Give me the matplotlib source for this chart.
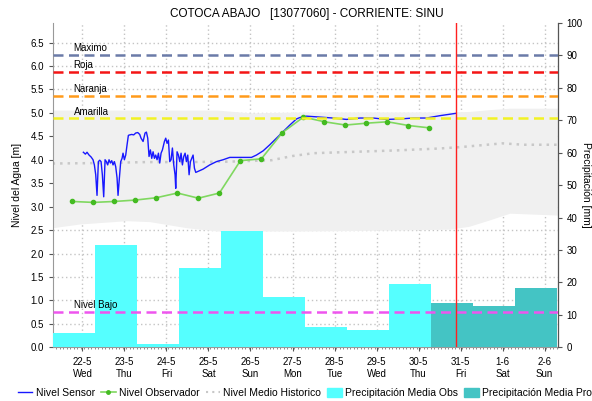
import numpy as np
import matplotlib.pyplot as plt
from matplotlib.lines import Line2D
from matplotlib.patches import Patch

plt.rcParams['font.family'] = ['Liberation Sans', 'DejaVu Sans']

# days: 0 = 22-5 at noon, axis runs 21-5 19:00 .. 2-6 19:00
day_labels = ['22-5', '23-5', '24-5', '25-5', '26-5', '27-5', '28-5', '29-5', '30-5', '31-5', '1-6', '2-6']
weekdays = ['Wed', 'Thu', 'Fri', 'Sat', 'Sun', 'Mon', 'Tue', 'Wed', 'Thu', 'Fri', 'Sat', 'Sun']

# precipitation (mm), daily bars 19:00-19:00
precip_obs = [4.4, 31.4, 1.0, 24.3, 35.8, 15.5, 6.2, 5.2, 19.5]
precip_pro = [13.5, 12.6, 18.2]

# thresholds (m)
thresholds = [('Maximo', 6.24, '#6b7ba8'), ('Roja', 5.88, '#f41515'),
              ('Naranja', 5.36, '#ff9a1a'), ('Amarilla', 4.88, '#f2f224'),
              ('Nivel Bajo', 0.76, '#ee55ee')]

sensor_t = [0.023, 0.071, 0.110, 0.158, 0.206, 0.253, 0.285, 0.317, 0.348, 0.380,
            0.412, 0.444, 0.475, 0.507, 0.539, 0.571, 0.602, 0.634, 0.666, 0.698,
            0.729, 0.761, 0.793, 0.825, 0.848, 0.880, 0.912, 0.944, 0.967, 0.999,
            1.031, 1.063, 1.094, 1.126, 1.174, 1.221, 1.269, 1.317, 1.364, 1.396,
            1.444, 1.491, 1.523, 1.555, 1.586, 1.618, 1.650, 1.682, 1.714, 1.745,
            1.777, 1.809, 1.840, 1.872, 1.904, 1.952, 1.983, 2.015, 2.047, 2.079,
            2.110, 2.142, 2.174, 2.205, 2.221, 2.253, 2.285, 2.317, 2.348, 2.380,
            2.412, 2.444, 2.475, 2.507, 2.539, 2.571, 2.602, 2.634, 2.666, 2.698,
            2.872, 3.031, 3.190, 3.348, 3.507, 3.666, 3.825, 4.023, 4.142, 4.301,
            4.460, 4.618, 4.777, 4.936, 5.094, 5.174, 5.333, 5.650, 5.967, 6.285,
            6.602, 6.920, 7.237, 7.555, 7.872, 8.190, 8.507, 8.890]
sensor_lvl = [4.16, 4.12, 4.16, 4.10, 4.06, 4.00, 3.89, 3.68, 3.24, 3.96,
              3.99, 3.96, 3.68, 3.21, 4.00, 3.96, 3.89, 4.00, 3.93, 3.98,
              3.89, 3.96, 3.85, 3.61, 3.24, 3.61, 3.96, 4.03, 4.14, 4.00,
              4.10, 4.32, 4.52, 4.53, 4.54, 4.53, 4.57, 4.58, 4.54, 4.46,
              4.39, 4.57, 4.59, 4.46, 4.07, 4.21, 4.03, 4.17, 4.03, 4.10,
              4.00, 4.14, 3.93, 4.14, 4.21, 4.39, 4.46, 4.35, 4.42, 3.96,
              4.00, 4.25, 3.89, 3.68, 3.39, 4.17, 4.10, 3.96, 4.14, 3.89,
              4.07, 4.14, 3.96, 4.10, 3.68, 3.96, 4.03, 4.10, 3.82, 3.73,
              3.80, 3.89, 3.96, 4.00, 4.05, 4.05, 4.05, 4.05, 4.10, 4.19,
              4.32, 4.46, 4.60, 4.74, 4.87, 4.90, 4.93, 4.91, 4.89, 4.86,
              4.89, 4.89, 4.86, 4.87, 4.89, 4.89, 4.94, 4.99]

obs_t = [-0.24, 0.26, 0.76, 1.26, 1.76, 2.26, 2.76, 3.26, 3.76, 4.26,
         4.76, 5.26, 5.76, 6.26, 6.76, 7.26, 7.76, 8.26]
obs_lvl = [3.11, 3.09, 3.11, 3.14, 3.19, 3.29, 3.18, 3.29, 3.98, 4.02,
           4.58, 4.91, 4.81, 4.74, 4.78, 4.81, 4.73, 4.68]

mean_t = [-0.71, 0.5, 1.5, 2.5, 3.5, 4.5, 5.0, 5.5, 6.5, 7.5, 8.5, 9.0, 9.5, 10.0, 10.5, 11.3]
mean_lvl = [3.92, 3.93, 3.95, 3.95, 3.96, 3.99, 4.08, 4.14, 4.17, 4.20, 4.24, 4.27, 4.31, 4.35, 4.32, 4.32]

band_t = [-0.71, -0.06, 1.05, 1.6, 2.48, 3.2, 4.0, 5.2, 7.56, 8.75, 9.2, 9.7, 10.17, 11.3]
band_lo = [2.55, 2.63, 2.70, 2.68, 2.55, 2.48, 2.48, 2.48, 2.50, 2.52, 2.58, 2.72, 2.86, 2.82]
band_hi = [5.06, 5.06, 5.06, 5.06, 5.06, 5.06, 5.00, 5.02, 5.02, 5.02, 5.03, 5.07, 5.10, 5.10]

now_t = 8.895
XMIN, XMAX = -0.70, 11.31
YMAX_M, YMAX_MM = 6.92, 100

fig = plt.figure(figsize=(5.92, 4.01), dpi=100)
ax = fig.add_axes([0.0895, 0.134, 0.8525, 0.809])
ax2 = ax.twinx()

ax.fill_between(band_t, band_lo, band_hi, color='#f0f0f0', lw=0, zorder=1)
ax.plot(mean_t, mean_lvl, color='#c8c8c8', lw=1.8, ls=(0, (1, 2)), zorder=2)
ax.plot(sensor_t, sensor_lvl, color='#1818ff', lw=1.0, zorder=3)
ax.plot(obs_t, obs_lvl, color='#80d860', lw=1.2, marker='o', ms=3,
        mfc='#44bb22', mec='#44bb22', zorder=4)

ax.set_xlim(XMIN, XMAX)
ax.set_ylim(0, YMAX_M)
ax.set_yticks(np.arange(0, 7.0, 0.5))
ax.set_yticklabels([f'{v:.1f}' for v in np.arange(0, 7.0, 0.5)])
ax.set_xticks(range(len(day_labels)))
ax.set_xticklabels([f'{d}\n{w}' for d, w in zip(day_labels, weekdays)])
ax.set_xticks(np.arange(-0.625, 11.3, 1 / 12), minor=True)
ax.grid(True, color='#c4c4c4', ls=(0, (1, 2)), lw=1.0)
ax.set_axisbelow(True)
ax.set_ylabel('Nivel del Agua [m]', fontsize=7.5)
ax.yaxis.set_label_coords(-0.062, 0.5)

# precipitation bars on the right axis
n_obs = len(precip_obs)
ax2.bar([i - 0.71 for i in range(n_obs)], precip_obs, width=1.0, align='edge',
        color='#55ffff', lw=0, zorder=1)
ax2.bar([n_obs + i - 0.71 for i in range(len(precip_pro))], precip_pro, width=1.0,
        align='edge', color='#44c4c4', lw=0, zorder=1)
ax2.set_ylim(0, YMAX_MM)
ax2.set_yticks(range(0, 101, 10))
ax2.set_ylabel('Precipitación [mm]', fontsize=7.5, rotation=270, va='center')
ax2.yaxis.set_label_coords(1.057, 0.5)

# threshold lines drawn above everything, in metres
for name, lvl, col in thresholds:
    ax2.plot([XMIN, XMAX], [lvl, lvl], transform=ax.transData, color=col,
             lw=1.8, ls=(0, (4, 2.2)), zorder=5)
    ax2.text(-0.21, lvl + 0.04, name, transform=ax.transData, fontsize=7,
             ha='left', va='bottom', zorder=6)
ax2.axvline(now_t, color='#ff2020', lw=1.0, zorder=6)
ax2.set_xlim(XMIN, XMAX)

for a in (ax, ax2):
    a.tick_params(labelsize=7, length=3, width=0.8, color='#555555')
    a.spines['top'].set_visible(False)
ax.tick_params(axis='x', which='minor', length=1.5, color='#777777')
ax.tick_params(axis='x', which='major', pad=4)
ax.spines['left'].set_color('#999999')
ax.spines['bottom'].set_color('#999999')
ax2.spines['left'].set_visible(False)
ax2.spines['bottom'].set_visible(False)
ax2.spines['right'].set_color('#555555')

fig.text(0.518, 0.965, 'COTOCA ABAJO   [13077060] - CORRIENTE: SINU',
         ha='center', va='center', fontsize=8.5)

handles = [Line2D([], [], color='#1818ff', lw=1.0),
           Line2D([], [], color='#80d860', lw=1.2, marker='o', ms=2.5, mfc='#44bb22', mec='#44bb22'),
           Line2D([], [], color='#c8c8c8', lw=1.5, ls=(0, (1, 2))),
           Patch(color='#55ffff'), Patch(color='#44c4c4')]
labels = ['Nivel Sensor', 'Nivel Observador', 'Nivel Medio Historico',
          'Precipitación Media Obs', 'Precipitación Media Pro']
fig.legend(handles, labels, loc='lower center', bbox_to_anchor=(0.515, -0.014), ncol=5,
           frameon=False, fontsize=7.5, handlelength=1.4, handletextpad=0.3,
           columnspacing=0.6, handleheight=1.0, borderpad=0.3)

fig.savefig('out.png', dpi=100)
